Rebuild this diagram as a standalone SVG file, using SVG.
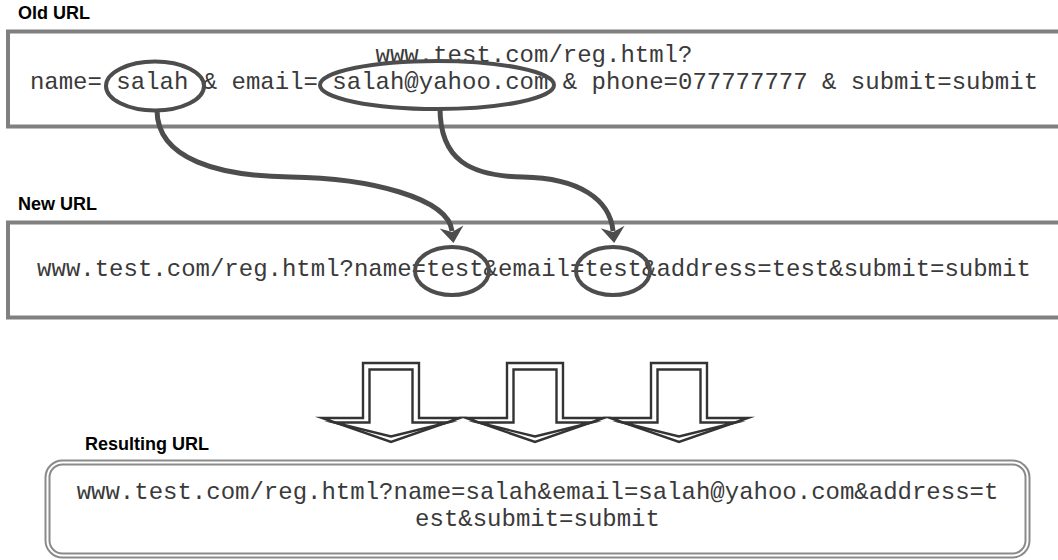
<svg xmlns="http://www.w3.org/2000/svg" width="1058" height="560" viewBox="0 0 1058 560">
<style>
.lbl{font-family:"Liberation Sans",Arial,sans-serif;font-weight:bold;font-size:18px;fill:#000}
.mono{font-family:"Courier New","Liberation Mono",monospace;font-size:24px;fill:#3a3a3a}
.box{fill:#fff;stroke:#808080;stroke-width:4}
.oval{fill:none;stroke:#4d4d4d;stroke-width:4}
.conn{fill:none;stroke:#4d4d4d;stroke-width:5;marker-end:url(#ah)}
.blk{fill:#fff;stroke:#333;stroke-width:2.4;stroke-linejoin:miter;stroke-miterlimit:20}
.blkin{fill:none;stroke:#333;stroke-width:2.4;stroke-linejoin:miter;stroke-miterlimit:20}
</style>
<defs>
<marker id="ah" markerUnits="userSpaceOnUse" markerWidth="40" markerHeight="40" viewBox="-20 -20 40 40" refX="0" refY="0" orient="auto">
<path d="M12,0 L-4,-12 L1,0 L-4,12 Z" fill="#4d4d4d"/>
</marker>
</defs>
<rect width="1058" height="560" fill="#fff"/>
<g id="old-url">
<text class="lbl" x="18" y="19">Old URL</text>
<rect class="box" x="8" y="31.5" width="1052" height="95"/>
<text class="mono" x="534" y="62" text-anchor="middle">www.test.com/reg.html?</text>
<text class="mono" x="534" y="89" text-anchor="middle">name= salah &amp; email= salah@yahoo.com &amp; phone=077777777 &amp; submit=submit</text>
<ellipse class="oval" cx="155" cy="86" rx="49" ry="24.5"/>
<ellipse class="oval" cx="437" cy="85" rx="117" ry="24"/>
</g>
<g id="new-url">
<text class="lbl" x="18" y="210">New URL</text>
<rect class="box" x="8" y="222.5" width="1052" height="95"/>
<text class="mono" x="534" y="276" text-anchor="middle">www.test.com/reg.html?name=test&amp;email=test&amp;address=test&amp;submit=submit</text>
<ellipse class="oval" cx="452" cy="271" rx="37" ry="24"/>
<ellipse class="oval" cx="613" cy="271" rx="37" ry="24"/>
</g>
<g id="connectors">
<path class="conn" d="M157,110 C157,160 220,176 290,177 C370,178 448,198 452,231"/>
<path class="conn" d="M440,108 C440,160 470,176 523,177 C580,178 610,200 613,231"/>
</g>
<g id="block-arrows">
<path class="blk" d="M363,363 H419 V418 H460 L391,442 L322,418 H363 Z"/>
<path class="blkin" d="M369.5,369.5 H412.5 V422.5 H448 L391,436.5 L334,422.5 H369.5 Z"/>
<path class="blk" d="M507,363 H563 V418 H604 L535,442 L466,418 H507 Z"/>
<path class="blkin" d="M513.5,369.5 H556.5 V422.5 H592 L535,436.5 L478,422.5 H513.5 Z"/>
<path class="blk" d="M651,363 H707 V418 H748 L679,442 L610,418 H651 Z"/>
<path class="blkin" d="M657.5,369.5 H700.5 V422.5 H736 L679,436.5 L622,422.5 H657.5 Z"/>
</g>
<g id="resulting-url">
<text class="lbl" x="85" y="450">Resulting URL</text>
<rect x="47.5" y="462.5" width="980" height="93" rx="15" fill="#fff" stroke="#8a8a8a" stroke-width="6"/>
<rect x="47.5" y="462.5" width="980" height="93" rx="15" fill="none" stroke="#fff" stroke-width="2"/>
<text class="mono" x="537.5" y="499" text-anchor="middle">www.test.com/reg.html?name=salah&amp;email=salah@yahoo.com&amp;address=t</text>
<text class="mono" x="537.5" y="526" text-anchor="middle">est&amp;submit=submit</text>
</g>
</svg>
